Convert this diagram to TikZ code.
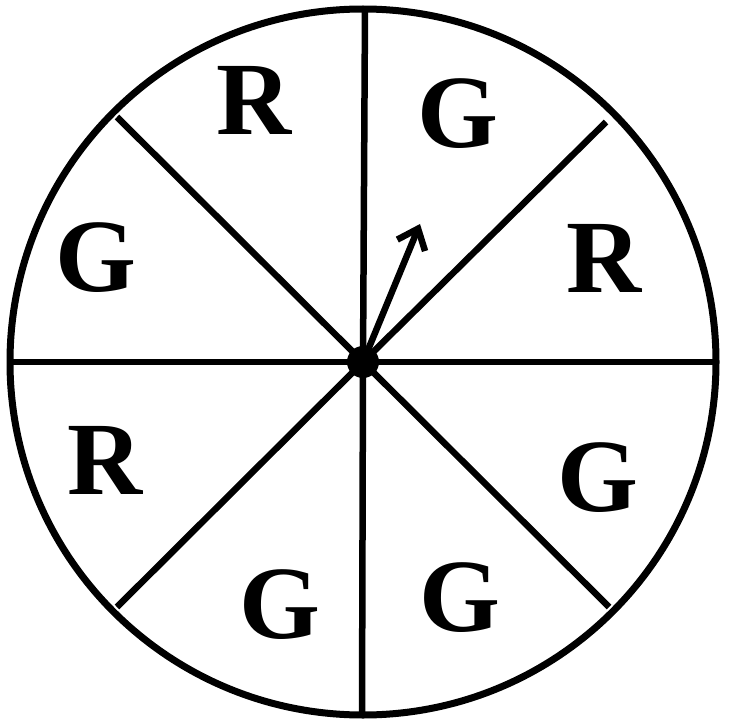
\documentclass[tikz,border=0pt]{standalone}
\usepackage{fontspec}
\setmainfont{Liberation Serif}
\usetikzlibrary{arrows.meta}
\begin{document}
\begin{tikzpicture}[x=1pt,y=-1pt,
  rim/.style={line width=7pt},
  spoke/.style={line width=6.5pt},
  lab/.style={font=\fontsize{104}{104}\selectfont\bfseries, inner sep=0pt}]
\useasboundingbox (0,0) rectangle (744,722);
\coordinate (c) at (363,362);
\draw[rim] (c) circle (353);
\coordinate (n) at (365,9);
\coordinate (s) at (362,715);
\coordinate (w) at (10,362);
\coordinate (e) at (716,362);
\coordinate (nw) at (117,117);
\coordinate (ne) at (606,122);
\coordinate (sw) at (117,607);
\coordinate (se) at (609,607);
\draw[spoke] (n) -- (c) -- (s);
\draw[spoke] (w) -- (e);
\draw[spoke] (nw) -- (c) -- (se);
\draw[spoke] (ne) -- (c) -- (sw);
\fill (c) circle (16);
\coordinate (tip) at (420,224);
\draw[line width=6.5pt,-{Straight Barb[length=18pt,width=30pt]}] (c) -- (tip);
\node[lab] (r1) at (254,100) {R};
\node[lab] (g1) at (458,114) {G};
\node[lab] (r2) at (604,258) {R};
\node[lab] (g2) at (96,258) {G};
\node[lab] (r3) at (105,460) {R};
\node[lab] (g3) at (598,478) {G};
\node[lab] (g4) at (280,605) {G};
\node[lab] (g5) at (460,598) {G};
\end{tikzpicture}
\end{document}
